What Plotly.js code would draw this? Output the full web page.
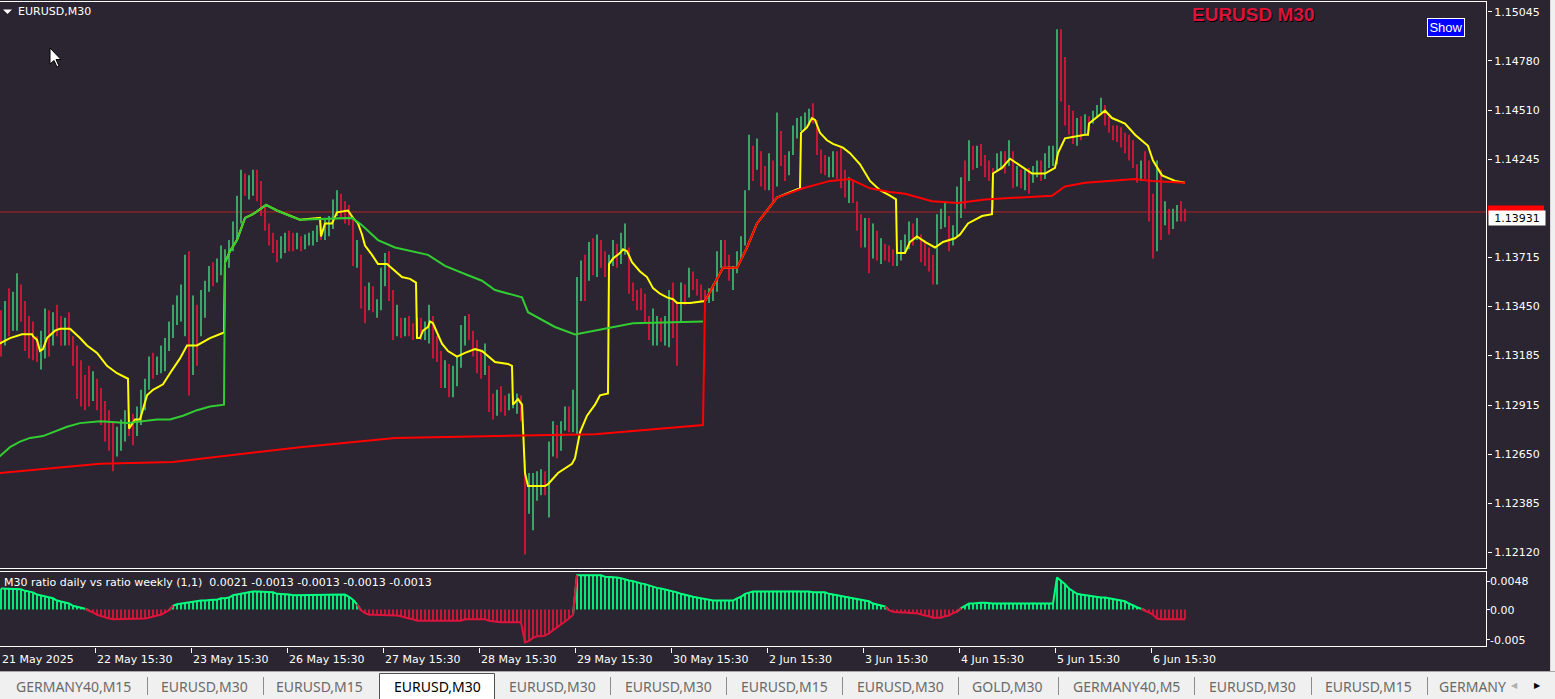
<!DOCTYPE html>
<html>
<head>
<meta charset="utf-8">
<script src="https://cdn.plot.ly/plotly-3.0.1.min.js"></script>
<style>html,body{margin:0;padding:0;background:#2a2530;overflow:hidden}#chart{width:1555px;height:699px}</style>
</head>
<body>
<div id="chart"></div>
<script>
// ---------- DATA (hourly bars, t = hours since 21 May 15:30, trading time) ----------
const firstOpen = 1.1337;
const hi = [
1.1343,1.1348,1.1355,1.1353,1.1363,1.1357,1.1348,1.1340,1.1337,1.1329,
1.1332,1.1344,1.1343,1.1342,1.1346,1.1340,1.1339,1.1342,1.1329,1.1324,
1.1316,1.1308,1.1313,1.1310,1.1306,1.1301,1.1294,1.1289,1.1283,1.1280,
1.1284,1.1289,1.1288,1.1287,1.1291,1.1300,1.1306,1.1318,1.1320,1.1318,
1.1324,1.1328,1.1337,1.1346,1.1351,1.1357,1.1373,1.1375,1.1351,1.1346,
1.1354,1.1359,1.1367,1.1369,1.1371,1.1378,1.1376,1.1381,1.1391,1.1405,
1.1419,1.1417,1.1416,1.1419,1.1419,1.1413,1.1400,1.1390,1.1385,1.1381,
1.1383,1.1385,1.1386,1.1385,1.1385,1.1383,1.1384,1.1385,1.1386,1.1389,
1.1390,1.1393,1.1394,1.1403,1.1408,1.1406,1.1402,1.1400,1.1393,1.1381,
1.1373,1.1356,1.1358,1.1356,1.1349,1.1366,1.1374,1.1375,1.1354,1.1346,
1.1339,1.1339,1.1340,1.1336,1.1339,1.1339,1.1337,1.1346,1.1340,1.1329,
1.1321,1.1316,1.1314,1.1313,1.1318,1.1335,1.1340,1.1341,1.1332,1.1327,
1.1321,1.1325,1.1313,1.1298,1.1300,1.1302,1.1297,1.1298,1.1296,1.1298,
1.1297,1.1262,1.1255,1.1255,1.1256,1.1257,1.1256,1.1272,1.1283,1.1281,
1.1283,1.1291,1.1291,1.1300,1.1361,1.1370,1.1373,1.1380,1.1382,1.1384,
1.1381,1.1375,1.1373,1.1381,1.1379,1.1385,1.1390,1.1377,1.1358,1.1354,
1.1355,1.1352,1.1340,1.1344,1.1340,1.1339,1.1340,1.1354,1.1358,1.1348,
1.1358,1.1357,1.1366,1.1364,1.1360,1.1357,1.1354,1.1355,1.1357,1.1375,
1.1381,1.1381,1.1373,1.1367,1.1375,1.1383,1.1408,1.1438,1.1432,1.1436,
1.1429,1.1421,1.1428,1.1424,1.1450,1.1440,1.1427,1.1429,1.1443,1.1447,
1.1448,1.1450,1.1452,1.1455,1.1446,1.1430,1.1427,1.1426,1.1429,1.1429,
1.1432,1.1419,1.1415,1.1413,1.1402,1.1395,1.1393,1.1393,1.1390,1.1386,
1.1382,1.1379,1.1378,1.1376,1.1375,1.1381,1.1384,1.1391,1.1390,1.1393,
1.1384,1.1381,1.1377,1.1373,1.1395,1.1398,1.1402,1.1394,1.1389,1.1410,
1.1415,1.1424,1.1435,1.1432,1.1432,1.1433,1.1427,1.1424,1.1420,1.1428,
1.1429,1.1429,1.1435,1.1429,1.1421,1.1419,1.1419,1.1420,1.1421,1.1424,
1.1424,1.1428,1.1432,1.1432,1.1495,1.1495,1.1480,1.1454,1.1451,1.1447,
1.1448,1.1449,1.1448,1.1451,1.1454,1.1458,1.1454,1.1448,1.1443,1.1443,
1.1442,1.1439,1.1438,1.1435,1.1422,1.1424,1.1429,1.1424,1.1406,1.1424,
1.1419,1.1402,1.1398,1.1398,1.1400,1.1402,1.1398];
const lo = [
1.1318,1.1324,1.1329,1.1332,1.1332,1.1337,1.1321,1.1317,1.1316,1.1315,
1.1311,1.1317,1.1318,1.1324,1.1329,1.1324,1.1324,1.1324,1.1313,1.1295,
1.1291,1.1289,1.1291,1.1294,1.1289,1.1281,1.1272,1.1267,1.1256,1.1264,
1.1267,1.1272,1.1275,1.1270,1.1275,1.1281,1.1289,1.1300,1.1306,1.1308,
1.1309,1.1310,1.1321,1.1328,1.1335,1.1337,1.1329,1.1297,1.1308,1.1313,
1.1329,1.1339,1.1353,1.1356,1.1358,1.1362,1.1362,1.1366,1.1375,1.1381,
1.1390,1.1405,1.1403,1.1405,1.1402,1.1394,1.1386,1.1378,1.1374,1.1369,
1.1371,1.1374,1.1375,1.1375,1.1376,1.1375,1.1376,1.1378,1.1378,1.1380,
1.1381,1.1381,1.1383,1.1387,1.1394,1.1393,1.1390,1.1389,1.1367,1.1366,
1.1344,1.1336,1.1343,1.1342,1.1339,1.1343,1.1356,1.1348,1.1327,1.1329,
1.1328,1.1329,1.1329,1.1327,1.1328,1.1327,1.1327,1.1325,1.1317,1.1315,
1.1301,1.1301,1.1296,1.1296,1.1302,1.1312,1.1324,1.1327,1.1318,1.1309,
1.1306,1.1308,1.1288,1.1284,1.1286,1.1288,1.1286,1.1289,1.1290,1.1287,
1.1283,1.1211,1.1233,1.1224,1.1240,1.1243,1.1243,1.1231,1.1264,1.1263,
1.1267,1.1278,1.1277,1.1277,1.1276,1.1348,1.1348,1.1359,1.1362,1.1361,
1.1366,1.1361,1.1364,1.1367,1.1366,1.1368,1.1373,1.1352,1.1348,1.1343,
1.1343,1.1336,1.1327,1.1324,1.1324,1.1326,1.1324,1.1323,1.1328,1.1313,
1.1337,1.1346,1.1350,1.1354,1.1351,1.1348,1.1346,1.1347,1.1348,1.1353,
1.1366,1.1367,1.1359,1.1354,1.1363,1.1370,1.1378,1.1408,1.1413,1.1419,
1.1410,1.1408,1.1408,1.1402,1.1410,1.1421,1.1413,1.1416,1.1427,1.1436,
1.1440,1.1441,1.1443,1.1444,1.1427,1.1417,1.1416,1.1415,1.1415,1.1414,
1.1409,1.1404,1.1401,1.1401,1.1386,1.1377,1.1377,1.1363,1.1371,1.1370,
1.1368,1.1370,1.1369,1.1367,1.1367,1.1370,1.1374,1.1376,1.1378,1.1381,
1.1369,1.1367,1.1364,1.1357,1.1357,1.1387,1.1388,1.1375,1.1378,1.1383,
1.1393,1.1398,1.1413,1.1419,1.1420,1.1421,1.1415,1.1413,1.1398,1.1419,
1.1420,1.1417,1.1421,1.1409,1.1410,1.1409,1.1408,1.1406,1.1412,1.1415,
1.1413,1.1414,1.1420,1.1421,1.1422,1.1456,1.1443,1.1438,1.1433,1.1432,
1.1435,1.1438,1.1440,1.1444,1.1447,1.1450,1.1443,1.1439,1.1435,1.1434,
1.1431,1.1428,1.1424,1.1420,1.1412,1.1413,1.1414,1.1391,1.1371,1.1375,
1.1381,1.1389,1.1384,1.1387,1.1391,1.1391,1.1391];
const cl = [
1.1332,1.1337,1.1335,1.1348,1.1354,1.1343,1.1329,1.1327,1.1324,1.1321,
1.1327,1.1337,1.1332,1.1337,1.1333,1.1329,1.1332,1.1327,1.1318,1.1302,
1.1300,1.1297,1.1294,1.1305,1.1294,1.1286,1.1278,1.1272,1.1267,1.1272,
1.1278,1.1283,1.1282,1.1281,1.1286,1.1294,1.1302,1.1313,1.1310,1.1311,
1.1321,1.1324,1.1332,1.1340,1.1346,1.1348,1.1364,1.1310,1.1337,1.1332,
1.1348,1.1348,1.1362,1.1360,1.1364,1.1373,1.1373,1.1375,1.1389,1.1402,
1.1413,1.1408,1.1410,1.1412,1.1410,1.1397,1.1389,1.1381,1.1378,1.1375,
1.1378,1.1382,1.1381,1.1380,1.1381,1.1378,1.1381,1.1382,1.1383,1.1386,
1.1383,1.1383,1.1389,1.1400,1.1405,1.1397,1.1394,1.1391,1.1373,1.1375,
1.1351,1.1348,1.1354,1.1346,1.1346,1.1362,1.1370,1.1356,1.1335,1.1340,
1.1332,1.1336,1.1335,1.1331,1.1335,1.1332,1.1335,1.1340,1.1324,1.1318,
1.1306,1.1310,1.1302,1.1308,1.1313,1.1329,1.1335,1.1329,1.1322,1.1316,
1.1311,1.1318,1.1294,1.1291,1.1294,1.1293,1.1291,1.1293,1.1293,1.1294,
1.1289,1.1245,1.1245,1.1251,1.1251,1.1252,1.1248,1.1270,1.1278,1.1272,
1.1278,1.1289,1.1283,1.1294,1.1354,1.1364,1.1359,1.1373,1.1367,1.1375,
1.1370,1.1366,1.1369,1.1375,1.1373,1.1381,1.1386,1.1356,1.1351,1.1349,
1.1346,1.1340,1.1329,1.1332,1.1335,1.1329,1.1335,1.1346,1.1343,1.1337,
1.1354,1.1351,1.1362,1.1357,1.1354,1.1353,1.1349,1.1351,1.1355,1.1370,
1.1375,1.1373,1.1362,1.1364,1.1373,1.1381,1.1405,1.1429,1.1419,1.1429,
1.1416,1.1410,1.1421,1.1410,1.1443,1.1427,1.1421,1.1424,1.1438,1.1443,
1.1446,1.1446,1.1450,1.1448,1.1429,1.1424,1.1419,1.1421,1.1425,1.1419,
1.1413,1.1408,1.1410,1.1403,1.1391,1.1381,1.1383,1.1375,1.1383,1.1373,
1.1376,1.1374,1.1373,1.1371,1.1373,1.1375,1.1381,1.1387,1.1383,1.1386,
1.1373,1.1371,1.1367,1.1362,1.1391,1.1394,1.1396,1.1381,1.1385,1.1405,
1.1410,1.1405,1.1429,1.1423,1.1427,1.1424,1.1421,1.1417,1.1405,1.1424,
1.1425,1.1421,1.1430,1.1413,1.1416,1.1412,1.1413,1.1410,1.1417,1.1421,
1.1419,1.1424,1.1427,1.1429,1.1467,1.1462,1.1448,1.1446,1.1438,1.1443,
1.1440,1.1444,1.1443,1.1448,1.1451,1.1452,1.1446,1.1441,1.1439,1.1438,
1.1436,1.1430,1.1427,1.1421,1.1419,1.1420,1.1417,1.1397,1.1383,1.1402,
1.1394,1.1394,1.1389,1.1394,1.1397,1.1396,1.1393];

// daily VWAP (yellow)
const yelT = [-0.375,2.25,5.25,7.75,8,9,9.75,10.5,11.5,13.5,14.75,17.25,19.75,21.5,24,26.5,29,31.75,
32,33.5,34.75,36.5,38,40.5,42.25,44.75,46.5,49,52.25,55.75,
56,57.25,59,61,63,66.25,69,72.25,74.75,79.75,
80,81,82.75,84,86.75,88,89.25,90.25,91,92.75,94.25,96.5,98.5,100.25,102.25,103.75,
104,104.75,105.5,106.75,107.25,108,109,110.25,111.75,114,116,118.5,120.25,121.75,123.5,126.75,127.75,
128,129.25,130.25,130.5,131,131.75,136,136.75,139.25,142.75,143.5,144.75,146.5,148.5,149.75,151.75,
152,153,154.75,155.5,156.5,157.75,159.75,161.5,163,164.75,166.5,168,169,172.25,175.75,
176,180.5,184,186.5,189,194,199.75,
200,201.5,202.75,203.5,204.75,206.5,208,210.5,212.25,214.75,217.25,219.75,222.25,223.75,
224,226,227.25,229,231,233.5,235.5,238.5,239.75,241.75,245.25,247.75,
248,250.25,252.25,254.25,257.75,261,263.5,264.25,266,271,271.75,
272,274.25,276,277.75,281,283.5,286.75,288,290.25,293.5,296];
const yelP = [1.1325,1.1328,1.1330,1.1330,1.1329,1.1327,1.1321,1.1322,1.1328,1.1332,1.1333,1.1333,1.1328,1.1324,1.1320,1.1313,1.1309,1.1306,
1.1279,1.1284,1.1284,1.1297,1.1300,1.1303,1.1309,1.1317,1.1324,1.1324,1.1328,1.1331,
1.1369,1.1375,1.1381,1.1393,1.1395,1.1400,1.1397,1.1394,1.1392,1.1393,
1.1383,1.1390,1.1390,1.1396,1.1397,1.1393,1.1390,1.1384,1.1378,1.1373,1.1368,1.1368,1.1364,1.1361,1.1360,1.1358,
1.1328,1.1328,1.1332,1.1334,1.1337,1.1336,1.1331,1.1325,1.1321,1.1318,1.1320,1.1322,1.1321,1.1318,1.1315,1.1314,1.1313,
1.1292,1.1295,1.1292,1.1279,1.1255,1.1248,1.1248,1.1249,1.1255,1.1260,1.1263,1.1277,1.1286,1.1292,1.1297,1.1298,
1.1368,1.1371,1.1374,1.1376,1.1375,1.1369,1.1364,1.1361,1.1355,1.1352,1.1350,1.1349,1.1347,1.1347,1.1348,
1.1348,1.1366,1.1366,1.1377,1.1390,1.1404,1.1409,
1.1439,1.1442,1.1447,1.1446,1.1439,1.1435,1.1433,1.1431,1.1428,1.1422,1.1413,1.1408,1.1405,1.1403,
1.1374,1.1374,1.1380,1.1383,1.1380,1.1377,1.1380,1.1382,1.1384,1.1390,1.1394,1.1395,
1.1417,1.1420,1.1425,1.1422,1.1417,1.1417,1.1420,1.1428,1.1436,1.1438,1.1438,
1.1444,1.1448,1.1451,1.1447,1.1444,1.1438,1.1432,1.1424,1.1416,1.1413,1.1412];

// weekly VWAP (green)
const grnT = [-0.375,2.25,4.75,7.25,10.5,13,16.5,19.75,24.75,31.5,34.75,39,42.25,45.5,49,52.25,55.75,
56,57.25,59,61,63,66.25,69,72.25,74.75,87.75,90.25,94.25,98.5,106.75,111,116.75,120.25,123.5,130.25,131.75,138.5,143.5,148.5,158,175.5];
const grnP = [1.1264,1.1269,1.1272,1.1274,1.1275,1.1277,1.1280,1.1282,1.1283,1.1282,1.1283,1.1284,1.1284,1.1286,1.1289,1.1291,1.1292,
1.1369,1.1375,1.1381,1.1393,1.1395,1.1400,1.1397,1.1394,1.1392,1.1393,1.1389,1.1381,1.1377,1.1373,1.1367,1.1362,1.1359,1.1354,1.1350,1.1342,1.1334,1.1330,1.1332,1.1336,1.1337];

// second weekly VWAP (red)
const redT = [-0.375,24.75,43,74.75,98.5,123.5,148.5,175.5,
176,180.5,184,186.5,189,194,200.5,207.25,212.25,217.25,222.25,226,232.75,239.25,246,262.75,266,271,283.5,287.75,296];
const redP = [1.1255,1.1260,1.1261,1.1269,1.1274,1.1275,1.1276,1.1281,
1.1348,1.1366,1.1366,1.1377,1.1390,1.1404,1.1409,1.1413,1.1414,1.1409,1.1407,1.1406,1.1402,1.1401,1.1403,1.1405,1.1410,1.1412,1.1414,1.1413,1.1412];

// M30 ratio daily vs ratio weekly histogram
const hist = [
0.0028,0.0028,0.0028,0.0028,0.0028,0.0027,0.0025,0.0024,0.0023,0.0020,
0.0019,0.0017,0.0016,0.0015,0.0012,0.0011,0.0009,0.0008,0.0005,0.0004,
0.0003,0.0001,-0.0001,-0.0004,-0.0007,-0.0009,-0.0011,-0.0012,-0.0013,-0.0013,
-0.0013,-0.0013,-0.0013,-0.0013,-0.0013,-0.0013,-0.0012,-0.0011,-0.0009,-0.0008,
-0.0007,-0.0004,-0.0001,0.0005,0.0007,0.0008,0.0009,0.0009,0.0011,0.0012,
0.0012,0.0012,0.0013,0.0013,0.0013,0.0015,0.0015,0.0016,0.0019,0.0020,
0.0021,0.0023,0.0024,0.0024,0.0024,0.0024,0.0023,0.0023,0.0023,0.0021,
0.0021,0.0020,0.0020,0.0019,0.0019,0.0019,0.0019,0.0019,0.0019,0.0019,
0.0019,0.0019,0.0019,0.0019,0.0019,0.0020,0.0020,0.0017,0.0013,0.0007,
-0.0001,-0.0005,-0.0007,-0.0007,-0.0007,-0.0007,-0.0007,-0.0008,-0.0008,-0.0008,
-0.0009,-0.0011,-0.0012,-0.0013,-0.0015,-0.0015,-0.0015,-0.0015,-0.0015,-0.0015,
-0.0015,-0.0015,-0.0015,-0.0015,-0.0015,-0.0015,-0.0013,-0.0013,-0.0013,-0.0013,
-0.0013,-0.0013,-0.0015,-0.0016,-0.0017,-0.0017,-0.0017,-0.0017,-0.0017,-0.0017,
-0.0017,-0.0044,-0.0042,-0.0038,-0.0036,-0.0036,-0.0035,-0.0032,-0.0028,-0.0024,
-0.0020,-0.0017,-0.0012,-0.0007,0.0046,0.0046,0.0046,0.0046,0.0046,0.0046,
0.0046,0.0044,0.0044,0.0044,0.0043,0.0042,0.0040,0.0039,0.0038,0.0036,
0.0035,0.0034,0.0032,0.0031,0.0029,0.0028,0.0027,0.0025,0.0024,0.0023,
0.0021,0.0020,0.0019,0.0017,0.0016,0.0015,0.0013,0.0012,0.0012,0.0012,
0.0012,0.0012,0.0012,0.0012,0.0015,0.0017,0.0021,0.0023,0.0024,0.0024,
0.0024,0.0024,0.0024,0.0025,0.0025,0.0025,0.0025,0.0025,0.0025,0.0025,
0.0024,0.0024,0.0024,0.0023,0.0023,0.0023,0.0023,0.0021,0.0020,0.0020,
0.0019,0.0017,0.0016,0.0015,0.0015,0.0013,0.0012,0.0011,0.0008,0.0007,
0.0005,0.0004,-0.0001,-0.0003,-0.0004,-0.0004,-0.0004,-0.0005,-0.0005,-0.0005,
-0.0007,-0.0008,-0.0009,-0.0011,-0.0011,-0.0011,-0.0009,-0.0008,-0.0005,-0.0003,
0.0002,0.0005,0.0008,0.0008,0.0009,0.0009,0.0009,0.0008,0.0008,0.0008,
0.0008,0.0009,0.0009,0.0008,0.0008,0.0008,0.0008,0.0008,0.0009,0.0008,
0.0008,0.0008,0.0008,0.0008,0.0043,0.0039,0.0034,0.0028,0.0024,0.0021,
0.0020,0.0019,0.0019,0.0017,0.0017,0.0016,0.0016,0.0015,0.0015,0.0013,
0.0012,0.0011,0.0008,0.0005,0.0003,0.0001,-0.0001,-0.0004,-0.0007,-0.0012,
-0.0013,-0.0013,-0.0013,-0.0013,-0.0013,-0.0013,-0.0013];

const bid = 1.13931, ask = 1.13962;
const priceTicks = [1.15045,1.14780,1.14510,1.14245,1.13715,1.13450,1.13185,1.12915,1.12650,1.12385,1.12120];
const histLabels = ['0.0048','0.00','-0.005'];
const dateTickPos = [23.5,47.5,71.5,95.5,119.5,143.5,167.5,191.5,215.5,239.5,263.5,287.5];
const dateTickText = ['22 May 15:30','23 May 15:30','26 May 15:30','27 May 15:30','28 May 15:30','29 May 15:30',
  '30 May 15:30','2 Jun 15:30','3 Jun 15:30','4 Jun 15:30','5 Jun 15:30','6 Jun 15:30'];
const firstDateText = '21 May 2025';
const indicatorTitle = 'M30 ratio daily vs ratio weekly (1,1)  0.0021 -0.0013 -0.0013 -0.0013 -0.0013';
const tabs = ['GERMANY40,M15','EURUSD,M30','EURUSD,M15','EURUSD,M30','EURUSD,M30','EURUSD,M30','EURUSD,M15',
  'EURUSD,M30','GOLD,M30','GERMANY40,M5','EURUSD,M30','EURUSD,M15','GERMANY'];
const activeTab = 3;

// ---------- BUILD ----------
const W = 1555, H = 699;
const X = px => px / W, Y = py => 1 - py / H;
const BG = '#2a2530', FONT = 'DejaVu Sans';
const t = hi.map((_, i) => i);
const op = [firstOpen].concat(cl.slice(0, -1));
const rng = hi.map((h, i) => h - lo[i]);
const candleColor = cl.map((c, i) => c >= op[i] ? '#3cb371' : '#dc143c');
const xr = [-0.25, 371.5];

const posLine = hist.map((v, i) => (v >= 0 || (hist[i-1] >= 0) || (hist[i+1] >= 0)) ? v : null);
const negLine = hist.map((v, i) => (v < 0 || (hist[i-1] < 0) || (hist[i+1] < 0)) ? v : null);

const traces = [
  {type:'bar', x:t, y:rng, base:lo, width:0.45, xaxis:'x', yaxis:'y',
   marker:{color:candleColor, line:{width:0}}, hoverinfo:'skip'},
  {type:'scatter', mode:'lines', x:yelT, y:yelP, line:{color:'#ffff00', width:2}, xaxis:'x', yaxis:'y'},
  {type:'scatter', mode:'lines', x:grnT, y:grnP, line:{color:'#32cd32', width:2}, xaxis:'x', yaxis:'y'},
  {type:'scatter', mode:'lines', x:redT, y:redP, line:{color:'#ff0000', width:2}, xaxis:'x', yaxis:'y'},
  {type:'bar', x:t, y:hist, width:0.45, xaxis:'x2', yaxis:'y2',
   marker:{color:hist.map(v => v >= 0 ? '#00ff7f' : '#dc143c'), line:{width:0}}},
  {type:'scatter', mode:'lines', x:t, y:posLine, line:{color:'#00ff7f', width:2}, xaxis:'x2', yaxis:'y2'},
  {type:'scatter', mode:'lines', x:t, y:negLine, line:{color:'#dc143c', width:2}, xaxis:'x2', yaxis:'y2'}
];

const shapes = [];
const line = (x0,y0,x1,y1,color,w,layer) => shapes.push({type:'line', xref:'paper', yref:'paper',
  x0:X(x0), y0:Y(y0), x1:X(x1), y1:Y(y1), line:{color:color, width:w||1}, layer:layer||'above'});
const rect = (x0,y0,x1,y1,fill,lc,layer) => shapes.push({type:'rect', xref:'paper', yref:'paper',
  x0:X(x0), y0:Y(y0), x1:X(x1), y1:Y(y1), fillcolor:fill, line:{color:lc||fill, width:lc?1:0}, layer:layer||'above'});

// ask price line
shapes.push({type:'line', xref:'paper', yref:'y', x0:0, x1:X(1487), y0:ask, y1:ask, line:{color:'#b22222', width:1}, layer:'below'});
// frames
line(0,1.5,1487,1.5,'#ffffff');
line(1486.5,1,1486.5,569,'#ffffff');
line(0,568.5,1487,568.5,'#ffffff');
line(0,571.5,1487,571.5,'#ffffff');
line(0,646.5,1487,646.5,'#ffffff');
line(1486.5,571,1486.5,647,'#ffffff');
// sub-window tick dashes
[581.5,609.5,639.5].forEach(y => line(1486.5,y,1490,y,'#ffffff'));
// ask label box (mostly hidden behind the bid label)
shapes.push({type:'rect', xref:'paper', yref:'y', x0:X(1488), x1:X(1544), y0:ask - 0.00018, y1:ask + 0.00035,
  fillcolor:'#ff0000', line:{width:0}, layer:'above'});
// window right edge
rect(1551,0,1555,671,'#f0f0f0');
line(1550.5,0,1550.5,671,'#d8d8d8');
// tab bar
rect(0,671,1555,699,'#f0f0f0');
line(0,671.5,1555,671.5,'#a8a8a8');
[147,263,610,726,842,958,1058,1194,1311,1427].forEach(x => line(x+0.5,677,x+0.5,695,'#8c8c8c'));
rect(379.5,673.5,494.5,699.5,'#ffffff','#505050');
// header triangle
shapes.push({type:'path', xref:'paper', yref:'paper', fillcolor:'#ffffff', line:{width:0},
  path:`M ${X(3)} ${Y(9.5)} L ${X(12)} ${Y(9.5)} L ${X(7.5)} ${Y(14)} Z`});
// mouse cursor
const cur = [[50,48],[50,64],[54,60.5],[57,67],[59,66],[56,59.5],[61,59.5]];
shapes.push({type:'path', xref:'paper', yref:'paper', fillcolor:'#ffffff', line:{color:'#000000', width:1},
  path:'M ' + cur.map(p => X(p[0]) + ' ' + Y(p[1])).join(' L ') + ' Z'});

const ann = [];
const txt = (text, xpx, ypx, opts) => ann.push(Object.assign({text:text, xref:'paper', yref:'paper', x:X(xpx), y:Y(ypx),
  xanchor:'left', yanchor:'middle', showarrow:false, font:{family:FONT, size:11, color:'#ffffff'}}, opts||{}));

txt('EURUSD,M30', 16, 11.5);
txt('EURUSD M30', 1253.5, 16, {xanchor:'center', font:{family:'Liberation Sans', size:19, color:'#000000', weight:'bold'}});
txt('EURUSD M30', 1252.5, 15, {xanchor:'center', font:{family:'Liberation Sans', size:19, color:'#dc143c', weight:'bold'}});
txt('Show', 1446, 27, {xanchor:'center', bgcolor:'#0000ff', bordercolor:'#ffffff', borderwidth:1, borderpad:0,
  width:36, height:17, font:{family:'Liberation Sans', size:13, color:'#ffffff'}});
txt(indicatorTitle, 2, 582.5);
// sub-window labels
[581.7, 610, 640].forEach((y, i) => txt(histLabels[i], 1488, y));
// date labels
ann.push({text:firstDateText, xref:'x2', yref:'paper', x:xr[0], y:Y(659.5), xanchor:'left', yanchor:'middle',
  showarrow:false, font:{family:FONT, size:11, color:'#ffffff'}});
dateTickPos.forEach((p, i) => ann.push({text:dateTickText[i], xref:'x2', yref:'paper', x:p, y:Y(659.5),
  xanchor:'left', yanchor:'middle', showarrow:false, font:{family:FONT, size:11, color:'#ffffff'}}));
// bid price label
ann.push({text:bid.toFixed(5), xref:'paper', yref:'y', x:X(1487.5), y:bid, xanchor:'left', yanchor:'middle',
  showarrow:false, bgcolor:'#ffffff', width:54, height:12, borderpad:1, font:{family:FONT, size:11, color:'#000000'}});
// tabs
const tabCenters = [73,204.5,319.5,437,552.5,668,784,900,1007.5,1126,1252,1368,1472.5];
tabs.forEach((s, i) => txt(s, tabCenters[i], 686, {xanchor:'center',
  font:{family:'Noto Sans', size:14, color: i === activeTab ? '#000000' : '#6a6a6a'}}));
txt('◀', 1514, 685, {xanchor:'center', font:{family:FONT, size:8, color:'#b0b0b0'}});
txt('▶', 1537, 685, {xanchor:'center', font:{family:FONT, size:8, color:'#000000'}});

const layout = {
  width:W, height:H, margin:{l:0, r:0, t:0, b:0}, paper_bgcolor:BG, plot_bgcolor:BG,
  showlegend:false, dragmode:false, barmode:'overlay',
  xaxis:{domain:[0, X(1487)], range:xr, showgrid:false, zeroline:false, showticklabels:false, ticks:'', fixedrange:true},
  yaxis:{domain:[Y(569), Y(1)], range:[1.12031, 1.15103], side:'right', anchor:'x', showgrid:false, zeroline:false,
         tickmode:'array', tickvals:priceTicks, ticktext:priceTicks.map(v => v.toFixed(5)),
         ticks:'outside', ticklen:4, tickcolor:'#ffffff', tickfont:{family:FONT, size:11, color:'#ffffff'}, fixedrange:true},
  xaxis2:{domain:[0, X(1487)], range:xr, anchor:'y2', showgrid:false, zeroline:false, showticklabels:false,
          tickmode:'array', tickvals:dateTickPos, ticks:'outside', ticklen:5, tickcolor:'#ffffff', fixedrange:true},
  yaxis2:{domain:[Y(647), Y(572)], range:[-0.005025, 0.005025], anchor:'x2', side:'right', showgrid:false,
          zeroline:false, showticklabels:false, ticks:'', fixedrange:true},
  shapes:shapes, annotations:ann
};

Plotly.newPlot('chart', traces, layout, {staticPlot:true, displayModeBar:false});
</script>
</body>
</html>
